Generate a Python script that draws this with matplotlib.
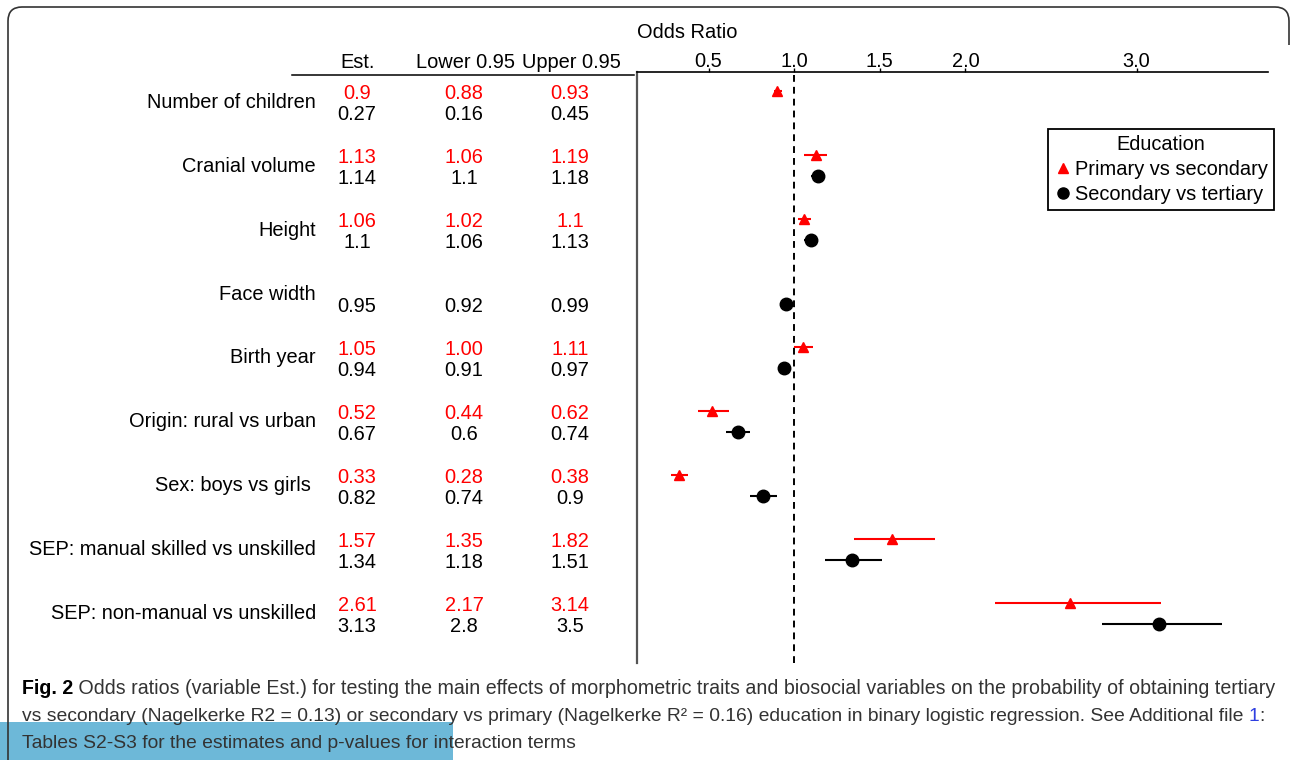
import numpy as np
import matplotlib.pyplot as plt
from matplotlib import transforms
from matplotlib.lines import Line2D
from matplotlib.patches import Rectangle, FancyBboxPatch
from matplotlib.path import Path

plt.rcParams['font.family'] = ['Liberation Sans', 'DejaVu Sans']

# ------------------------------------------------------------------
# Data (as printed in the table)
# ------------------------------------------------------------------
labels = [
    "Number of children",
    "Cranial volume",
    "Height",
    "Face width",
    "Birth year",
    "Origin: rural vs urban",
    "Sex: boys vs girls ",
    "SEP: manual skilled vs unskilled",
    "SEP: non-manual vs unskilled",
]

# Primary vs secondary (red)
prim_est = ["0.9", "1.13", "1.06", "", "1.05", "0.52", "0.33", "1.57", "2.61"]
prim_lo = ["0.88", "1.06", "1.02", "", "1.00", "0.44", "0.28", "1.35", "2.17"]
prim_hi = ["0.93", "1.19", "1.1", "", "1.11", "0.62", "0.38", "1.82", "3.14"]

# Secondary vs tertiary (black)
sec_est = ["0.27", "1.14", "1.1", "0.95", "0.94", "0.67", "0.82", "1.34", "3.13"]
sec_lo = ["0.16", "1.1", "1.06", "0.92", "0.91", "0.6", "0.74", "1.18", "2.8"]
sec_hi = ["0.45", "1.18", "1.13", "0.99", "0.97", "0.74", "0.9", "1.51", "3.5"]
sec_plotted = [False, True, True, True, True, True, True, True, True]

x_ticks = [0.5, 1.0, 1.5, 2.0, 3.0]
x_ticklabels = ["0.5", "1.0", "1.5", "2.0", "3.0"]
headers = ["Est.", "Lower 0.95", "Upper 0.95"]

caption_1 = ("Odds ratios (variable Est.) for testing the main effects of morphometric traits "
             "and biosocial variables on the probability of obtaining tertiary")
caption_2 = ("vs secondary (Nagelkerke R2 = 0.13) or secondary vs primary (Nagelkerke R\u00b2 = 0.16) "
             "education in binary logistic regression. See Additional file")
caption_3 = "Tables S2-S3 for the estimates and p-values for interaction terms"


def to_float(vals):
    return np.array([float(v) if v else np.nan for v in vals])


W, H = 1292, 760
FS = 14.4
fig = plt.figure(figsize=(W / 100, H / 100), dpi=100)


def fx(x):
    return x / W


def fy(y):
    return 1 - y / H


# ------------------------------------------------------------------
# Forest axes
# ------------------------------------------------------------------
ax = fig.add_axes([fx(637), fy(663), (1268 - 637) / W, (663 - 72) / H])
rows = np.arange(len(labels))

ax.set_xlim(0.082, 3.767)
ax.set_ylim(8.766, -0.469)

ax.axvline(1.0, color="black", lw=1.4, ls=(0, (3.5, 2.6)), zorder=1)

p_est, p_lo, p_hi = to_float(prim_est), to_float(prim_lo), to_float(prim_hi)
s_est, s_lo, s_hi = to_float(sec_est), to_float(sec_lo), to_float(sec_hi)
keep = np.array(sec_plotted)

y_red = rows - 0.17
y_blk = rows + 0.16

ax.hlines(y_red, p_lo, p_hi, color="red", lw=1.5, zorder=2)
ax.plot(p_est, y_red, "^", color="red", ms=7.5, ls="none", zorder=3)
ax.hlines(y_blk[keep], s_lo[keep], s_hi[keep], color="black", lw=1.5, zorder=2)
ax.plot(s_est[keep], y_blk[keep], "o", color="black", ms=9, ls="none", zorder=3)

ax.spines["right"].set_visible(False)
ax.spines["bottom"].set_visible(False)
ax.spines["top"].set_linewidth(1.2)
ax.spines["left"].set_linewidth(1.6)
ax.spines["left"].set_color("#555555")
ax.set_yticks([])
ax.xaxis.set_ticks_position("top")
ax.set_xticks(x_ticks)
ax.set_xticklabels(x_ticklabels)
ax.tick_params(axis="x", length=3, width=1, labelsize=FS, pad=-2.5)

handles = [
    Line2D([], [], marker="^", color="red", ls="none", ms=7),
    Line2D([], [], marker="o", color="black", ls="none", ms=8),
]
leg = ax.legend(
    handles, ["Primary vs secondary", "Secondary vs tertiary"],
    title="Education", loc="upper right",
    bbox_to_anchor=(fx(1274), fy(129)), bbox_transform=fig.transFigure,
    fontsize=FS, title_fontsize=FS, frameon=True, fancybox=False,
    edgecolor="black", framealpha=1, borderpad=0.3, labelspacing=0.3,
    handletextpad=0.15, handlelength=0.9, borderaxespad=0,
)
leg.get_frame().set_linewidth(1.3)

fig.text(fx(637), fy(32), "Odds Ratio", ha="left", va="center", fontsize=FS)

# ------------------------------------------------------------------
# Table on the left (x in pixels, y follows the forest rows)
# ------------------------------------------------------------------
tr = transforms.blended_transform_factory(fig.transFigure, ax.transData)
col_x = [357, 464, 570]

for cx, h in zip([358, 465, 571], headers):
    fig.text(fx(cx), fy(62), h, ha="center", va="center", fontsize=FS)
fig.add_artist(Line2D([fx(292), fx(634)], [fy(75), fy(75)], color="black", lw=1.1))

for i, lab in enumerate(labels):
    fig.text(fx(316), i, lab, transform=tr, ha="right", va="center", fontsize=FS)
    for cx, red, blk in zip(col_x, [prim_est, prim_lo, prim_hi], [sec_est, sec_lo, sec_hi]):
        if red[i]:
            fig.text(fx(cx), i - 0.14, red[i], transform=tr, ha="center", va="center",
                     fontsize=FS, color="red")
        fig.text(fx(cx), i + 0.19, blk[i], transform=tr, ha="center", va="center",
                 fontsize=FS, color="black")

# ------------------------------------------------------------------
# Caption
# ------------------------------------------------------------------
cap_font = ['Liberation Sans Narrow', 'Liberation Sans', 'DejaVu Sans']
cap_col = "#333333"
renderer = fig.canvas.get_renderer()


def width(t):
    return t.get_window_extent(renderer).width


def cap(x, y, s, size, **kw):
    kw.setdefault("color", cap_col)
    return fig.text(fx(x), fy(y), s, family=cap_font, fontsize=size,
                    ha="left", va="baseline", **kw)


t_fig = cap(22, 694, "Fig. 2", 14, weight="bold", color="black")
t_c1 = cap(0, 694, " " + caption_1, 14)
size = 14 * (1273 - 22) / (width(t_fig) + width(t_c1))
t_fig.set_fontsize(size)
t_c1.set_fontsize(size)
t_c1.set_x(fx(22 + width(t_fig)))

# second line must also end at the right margin
t_c2 = cap(22, 721, caption_2 + " ", 14)
t_one = cap(0, 721, "1", 14, color="#2F3FE0")
t_col = cap(0, 721, ":", 14)
w2 = width(t_c2) + width(t_one) + width(t_col)
size2 = min(size, 14 * (1275 - 22) / w2)
for t in (t_c2, t_one, t_col):
    t.set_fontsize(size2)
x1 = 22 + width(t_c2)
t_one.set_x(fx(x1))
t_col.set_x(fx(x1 + width(t_one)))

cap(22, 748, caption_3, size2)

# selection highlight behind last caption line
fig.add_artist(Rectangle((0, fy(760)), fx(453), 38 / H, transform=fig.transFigure,
                         facecolor="#6DB8D8", edgecolor="none", zorder=0))

# rounded frame of the screenshot (right side only near the top)
frame = FancyBboxPatch((8, -60), 1281, 813, boxstyle="round,pad=0,rounding_size=14",
                       transform=transforms.IdentityTransform(), facecolor="none",
                       edgecolor="#333333", lw=1.2, zorder=5)
fig.add_artist(frame)
clip = Path([(0, 0), (1276, 0), (1276, 715), (W, 715), (W, H), (0, H), (0, 0)], closed=True)
frame.set_clip_path(clip, transforms.IdentityTransform())

fig.savefig("out.png", dpi=100)
